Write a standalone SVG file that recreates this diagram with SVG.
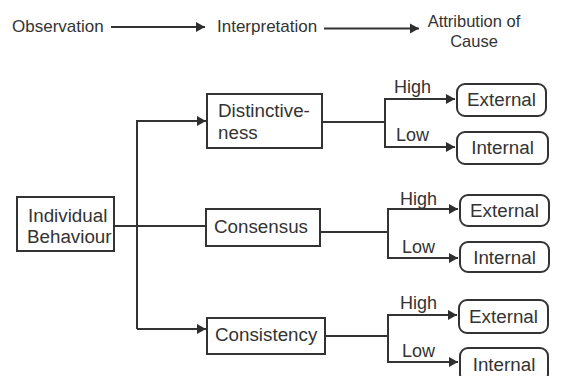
<svg xmlns="http://www.w3.org/2000/svg" width="565" height="376" viewBox="0 0 565 376">
<defs>
<marker id="ah" markerUnits="userSpaceOnUse" markerWidth="10" markerHeight="11" refX="9" refY="5.5" orient="auto">
<path d="M0,0.5 L9,5.5 L0,10.5 z" fill="#2e2e2e"/>
</marker>
<style>
text{font-family:"Liberation Sans",Arial,sans-serif;fill:#333;font-size:18.8px}
.top{font-size:17px}
.lbl{font-size:18px}
.box{fill:#fff;stroke:#333;stroke-width:2}
.rbox{fill:#fff;stroke:#333;stroke-width:2}
.ln{fill:none;stroke:#333;stroke-width:2}
.ar{fill:none;stroke:#333;stroke-width:2;marker-end:url(#ah)}
.c{text-anchor:middle}
</style>
</defs>
<rect width="565" height="376" fill="#fff"/>

<g id="header">
<text class="top" x="12" y="32">Observation</text>
<text class="top" x="217" y="32">Interpretation</text>
<text class="top c" x="474" y="27" style="font-size:16.5px">Attribution of</text>
<text class="top c" x="474" y="47" style="font-size:16.5px">Cause</text>
</g>

<g id="connectors">
<line class="ar" x1="111" y1="27" x2="205" y2="27"/>
<line class="ar" x1="324" y1="28.5" x2="419" y2="28.5"/>
<line class="ln" x1="114" y1="226" x2="206" y2="226"/>
<polyline class="ln" points="205,121 137,121 137,329"/>
<line class="ar" x1="137" y1="121" x2="206" y2="121"/>
<line class="ar" x1="137" y1="329" x2="206" y2="329"/>
<line class="ln" x1="322" y1="122" x2="385" y2="122"/>
<line class="ln" x1="385" y1="99" x2="385" y2="147"/>
<line class="ar" x1="384" y1="99" x2="455" y2="99"/>
<line class="ar" x1="384" y1="147" x2="455" y2="147"/>
<line class="ln" x1="320" y1="232" x2="388" y2="232"/>
<line class="ln" x1="388" y1="209" x2="388" y2="258"/>
<line class="ar" x1="387" y1="209" x2="458" y2="209"/>
<line class="ar" x1="387" y1="258" x2="458" y2="258"/>
<line class="ln" x1="325" y1="336" x2="388" y2="336"/>
<line class="ln" x1="388" y1="315" x2="388" y2="362"/>
<line class="ar" x1="387" y1="315" x2="457" y2="315"/>
<line class="ar" x1="387" y1="362" x2="458" y2="362"/>
<text class="lbl" x="394" y="93">High</text>
<text class="lbl" x="396" y="141">Low</text>
<text class="lbl" x="400" y="205">High</text>
<text class="lbl" x="402" y="253">Low</text>
<text class="lbl" x="400" y="309">High</text>
<text class="lbl" x="402" y="357">Low</text>
</g>

<g id="individual">
<rect class="box" x="17" y="197" width="97" height="54"/>
<text x="28" y="222">Individual</text>
<text x="27" y="243">Behaviour</text>
</g>

<g id="distinctiveness">
<rect class="box" x="207" y="94" width="115" height="54"/>
<text x="218" y="117">Distinctive-</text>
<text x="218" y="139">ness</text>
</g>

<g id="consensus">
<rect class="box" x="206" y="209" width="114" height="37"/>
<text x="214" y="233">Consensus</text>
</g>

<g id="consistency">
<rect class="box" x="207" y="318" width="118" height="36"/>
<text x="215" y="341">Consistency</text>
</g>

<g id="external1">
<rect class="rbox" x="457" y="84" width="89" height="32" rx="8"/>
<text class="c" x="501.5" y="106">External</text>
</g>
<g id="internal1">
<rect class="rbox" x="457" y="132" width="91" height="32" rx="8"/>
<text class="c" x="502.5" y="154">Internal</text>
</g>
<g id="external2">
<rect class="rbox" x="460" y="195" width="89" height="31" rx="8"/>
<text class="c" x="504.5" y="217">External</text>
</g>
<g id="internal2">
<rect class="rbox" x="460" y="242" width="89" height="30" rx="8"/>
<text class="c" x="504.5" y="264">Internal</text>
</g>
<g id="external3">
<rect class="rbox" x="459" y="300" width="89" height="33" rx="8"/>
<text class="c" x="503.5" y="323">External</text>
</g>
<g id="internal3">
<rect class="rbox" x="460" y="348" width="88" height="34" rx="8"/>
<text class="c" x="504" y="371">Internal</text>
</g>
</svg>
